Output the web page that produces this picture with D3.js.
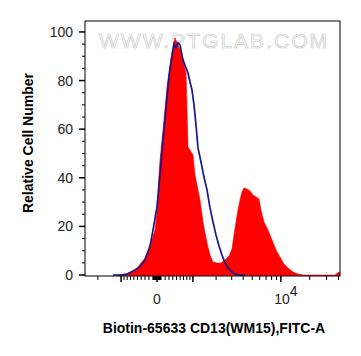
<!DOCTYPE html>
<html>
<head>
<meta charset="utf-8">
<script src="https://cdn.jsdelivr.net/npm/d3@7"></script>
<style>
  html, body { margin: 0; padding: 0; background: #fff; }
  svg { display: block; }
  text { font-family: "Liberation Sans", Arial, sans-serif; }
</style>
</head>
<body>
<svg id="chart" width="361" height="356"></svg>
<script>
// Histogram channels (0..255 display channels) and relative counts (%)
const redChannels = [33,38,45,52,60,65,70,72,74,75,78,82,85,87,90,93,96,99,101,102,103,105,108,110,112,115,118,122,125,128,132,136,140,144,147,149,151,153,155,157,159,162,165,168,171,174,176,179,183,187,191,195,199,203,208,213,218,250,252,254,255];
const redValues   = [0,0,0.8,2.9,7.0,11.9,18.5,25.9,41.2,47.3,59.7,77.4,86.4,91.4,97.5,94.7,91.8,86.4,83.1,67.9,52.7,51.4,49.4,41.2,37.0,30.9,21.8,13.2,8.2,5.3,4.9,4.9,6.2,7.8,10.7,16.5,21.8,26.7,30.9,34.2,35.8,35.4,34.6,32.9,32.1,31.3,26.7,21.8,18.5,14.4,10.3,7.4,4.5,2.9,1.2,0.4,0,0,0.6,1.2,1.2];

const blueChannels = [28,35,42,48,55,60,65,68,72,75,78,81,84,87,89,91,93,95,98,101,103,105,107,109,111,113,116,119,122,125,128,131,134,137,140,144,148,153,160];
const blueValues   = [0,0,0.4,1.6,3.3,6.2,11.9,18.5,28.0,41.2,55.6,68.7,81.5,90.5,95.1,93.4,95.5,94.7,88.5,85.2,83.1,79.4,76.1,70.0,61.7,52.3,46.5,40.3,35.0,27.6,21.8,16.5,11.9,8.2,4.9,2.5,0.8,0,0];

// Axis ticks
const yMajorTicks = [0, 20, 40, 60, 80, 100];
const yMinorTicks = [5,10,15,25,30,35,45,50,55,65,70,75,85,90,95];
const xMajorTicks = [-1000, 0, 1000, 10000];
const xMinorTicks = [-2000,-900,-800,-700,-600,-500,-400,-300,-200,-100,-90,-80,-70,-60,-50,-40,-30,-20,-10,
                     10,20,30,40,50,60,70,80,90,100,200,300,400,500,600,700,800,900,
                     2000,3000,4000,5000,6000,7000,8000,9000,20000,30000,40000];
const xTickLabels = [{v: 0, base: "0", sup: ""}, {v: 10000, base: "10", sup: "4"}];
const yLabel = "Relative Cell Number";
const xLabel = "Biotin-65633 CD13(WM15),FITC-A";
const watermark = "WWW.PTGLAB.COM";

const svg = d3.select("#chart");
const L = 85, R = 340, T = 21, B = 276;

const xChan = d3.scaleLinear().domain([0, 255]).range([L, R]);
const W = 1030;
const tr = v => Math.asinh(v / W);
const xVal = d3.scaleLinear().domain([tr(-2800), tr(41400)]).range([L, R]);
const xv = v => xVal(tr(v));
const y = d3.scaleLinear().domain([0, 104.5]).range([275, T]);

// watermark
svg.append("text")
  .attr("x", 99).attr("y", 48)
  .attr("font-size", 21)
  .attr("textLength", 228)
  .attr("lengthAdjust", "spacing")
  .attr("fill", "#fbfbfb")
  .attr("stroke", "#cccccc")
  .attr("stroke-width", 0.7)
  .text(watermark);

svg.append("defs").append("clipPath").attr("id", "clip")
  .append("rect").attr("x", L).attr("y", T).attr("width", R - L).attr("height", B - T);

const g = svg.append("g").attr("clip-path", "url(#clip)");

const redData = redChannels.map((c, i) => [c, redValues[i]]);
const blueData = blueChannels.map((c, i) => [c, blueValues[i]]);

g.append("path")
  .datum(redData)
  .attr("fill", "#ff0000")
  .attr("stroke", "#ff0000")
  .attr("stroke-width", 0.6)
  .attr("d", d3.area().x(d => xChan(d[0])).y0(y(0) + 0.8).y1(d => y(d[1])));

g.append("path")
  .datum(blueData)
  .attr("fill", "none")
  .attr("stroke", "#18188a")
  .attr("stroke-width", 1.7)
  .attr("d", d3.line().x(d => xChan(d[0])).y(d => y(d[1])));

// frame
svg.append("rect")
  .attr("x", L).attr("y", T).attr("width", R - L).attr("height", B - T)
  .attr("fill", "none").attr("stroke", "#000").attr("stroke-width", 1);

// y ticks
const ax = svg.append("g").attr("stroke", "#000").attr("stroke-width", 1);
yMajorTicks.forEach(v => {
  ax.append("line").attr("x1", L - 6).attr("x2", L).attr("y1", y(v)).attr("y2", y(v)).attr("stroke-width", 1.5);
});
yMinorTicks.forEach(v => {
  ax.append("line").attr("x1", L - 3).attr("x2", L).attr("y1", y(v)).attr("y2", y(v));
});
svg.append("g").selectAll("text").data(yMajorTicks).join("text")
  .attr("x", 73).attr("y", d => y(d) + 5)
  .attr("text-anchor", "end")
  .attr("font-size", 14)
  .attr("fill", "#222")
  .text(d => d);

// x ticks
xMajorTicks.forEach(v => {
  ax.append("line").attr("x1", xv(v)).attr("x2", xv(v)).attr("y1", B).attr("y2", B + 6).attr("stroke-width", 1.5);
});
xMinorTicks.forEach(v => {
  ax.append("line").attr("x1", xv(v)).attr("x2", xv(v)).attr("y1", B).attr("y2", B + 4);
});
xTickLabels.forEach(t => {
  const tx = svg.append("text")
    .attr("x", xv(t.v) + (t.sup ? 5 : 0)).attr("y", 304)
    .attr("text-anchor", "middle")
    .attr("font-size", 14)
    .attr("fill", "#222");
  tx.append("tspan").text(t.base);
  if (t.sup) tx.append("tspan").attr("dy", -8).attr("font-size", 14).text(t.sup);
});

// axis labels
svg.append("text")
  .attr("x", 214).attr("y", 333)
  .attr("text-anchor", "middle")
  .attr("font-size", 14).attr("font-weight", "bold")
  .attr("fill", "#000")
  .text(xLabel);

svg.append("text")
  .attr("transform", "translate(33,143) rotate(-90)")
  .attr("text-anchor", "middle")
  .attr("font-size", 14).attr("font-weight", "bold")
  .attr("fill", "#000")
  .text(yLabel);
</script>
</body>
</html>
